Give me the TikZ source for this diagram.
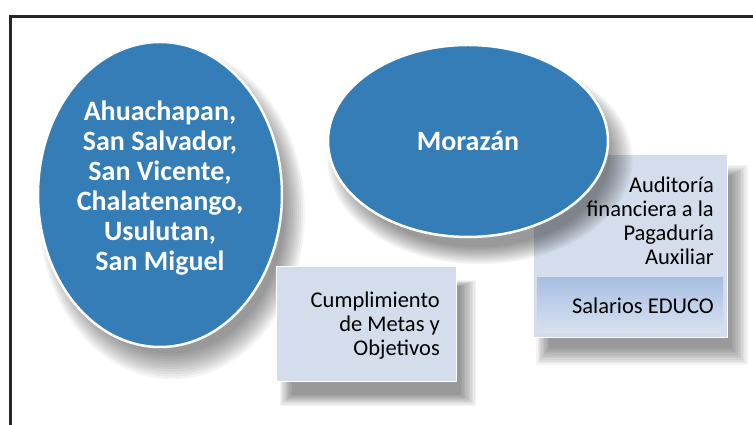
\documentclass[tikz,border=0pt]{standalone}
\usepackage{fontspec}
\setmainfont{Carlito}
\usetikzlibrary{shapes.geometric,shadows}

\definecolor{zoneblue}{HTML}{347DB6}
\definecolor{boxgray}{HTML}{D4DDEB}
\definecolor{bartop}{HTML}{A8BFE2}
\definecolor{barbottom}{HTML}{D8E2F0}
\definecolor{framegray}{HTML}{262626}

\tikzset{
	% one layer of the soft shadow
	shadowlayer/.style = {drop shadow={shadow xshift=11pt, shadow yshift=-17pt, shadow scale=#1, fill=black, opacity=0.045}},
	% soft shadow made of stacked drop shadows
	softshadow/.style = {shadowlayer=1.09, shadowlayer=1.075, shadowlayer=1.06, shadowlayer=1.045,
		shadowlayer=1.03, shadowlayer=1.015, shadowlayer=1.0, shadowlayer=0.985, shadowlayer=0.97,
		shadowlayer=0.955, shadowlayer=0.94},
	zone/.style = {ellipse, fill=zoneblue, draw=white, line width=2.5pt, inner sep=0pt, softshadow},
	zonetext/.style = {text=white, align=center, font=\bfseries\fontsize{28}{30}\selectfont},
	infobox/.style = {rectangle, fill=boxgray, draw=white, line width=1pt, inner sep=0pt, softshadow},
	infotext/.style = {align=right, inner sep=0pt, font=\fontsize{22.5}{24}\selectfont},
}

\begin{document}
\begin{tikzpicture}[x=1pt, y=1pt]

	% page of 753 x 425, origin at the bottom left
	\useasboundingbox (0,0) rectangle (753,425);
	\fill[white] (0,0) rectangle (753,425);

	% frame, only the left and top sides are inside the page
	\draw[framegray, line width=3pt] (10,-15) -- (10,408) -- (760,408);

	% left zone
	\node[zone, minimum width=244pt, minimum height=305pt] (west) at (160,230.5) {};
	\node[zonetext] (westtext) at (160,237) {Ahuachapan,\\San Salvador,\\San Vicente,\\Chalatenango,\\Usulutan,\\San Miguel};

	% right box, behind the second zone
	\node[infobox, minimum width=194pt, minimum height=183pt] (audit) at (630,178.5) {};
	\node[infotext, anchor=east] (audittext) at (714,204) {Auditoría\\financiera a la\\Pagaduría\\Auxiliar};
	\node[rectangle, inner sep=0pt, minimum width=186pt, minimum height=55pt,
		top color=bartop, bottom color=barbottom] (educo) at (630,119.5) {};
	\node[infotext, anchor=east] (educotext) at (714,119.5) {Salarios EDUCO};

	% second zone
	\node[zone, minimum width=280pt, minimum height=192pt] (east) at (468,284) {};
	\node[zonetext] (easttext) at (468,284) {Morazán};

	% box under the left zone
	\node[infobox, minimum width=180pt, minimum height=115pt] (goals) at (366,100.5) {};
	\node[infotext, anchor=east] (goalstext) at (440,99) {Cumplimiento\\de Metas y\\Objetivos};

\end{tikzpicture}
\end{document}
